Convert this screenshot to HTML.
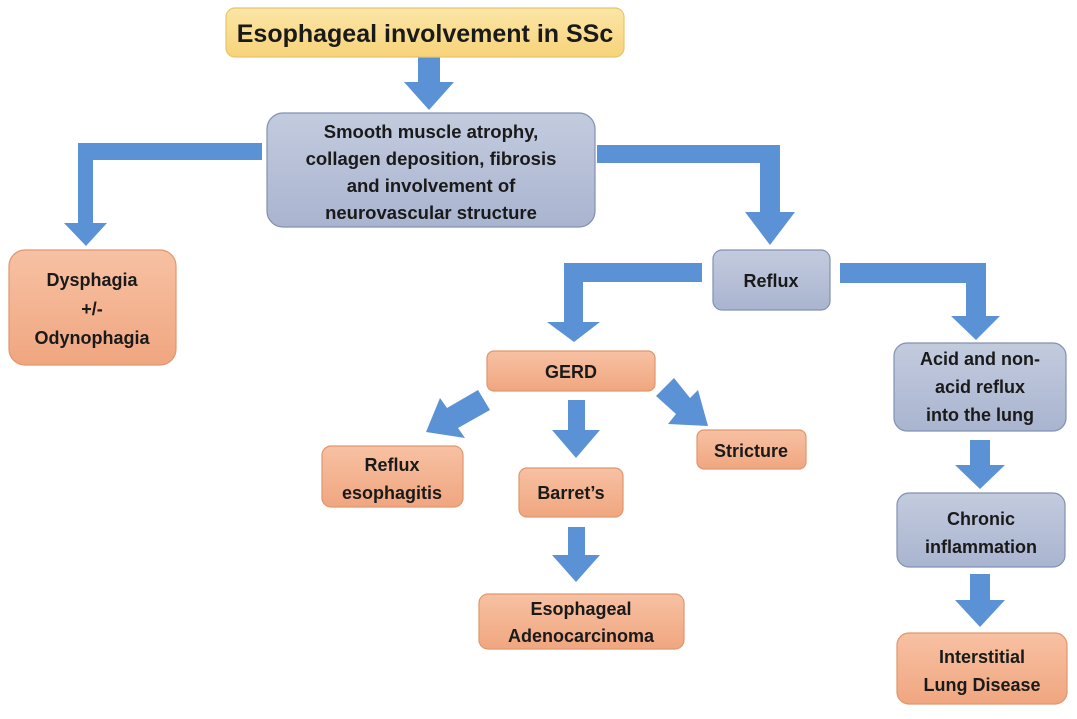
<!DOCTYPE html>
<html><head><style>
body{margin:0;background:#fff;}
text{font-family:"Liberation Sans",sans-serif;font-weight:bold;fill:#1a1a1a;text-anchor:middle;}
</style></head><body>
<svg width="1077" height="714" viewBox="0 0 1077 714" xmlns="http://www.w3.org/2000/svg">
<defs>
<linearGradient id="y" x1="0" y1="0" x2="0" y2="1"><stop offset="0" stop-color="#fbe6a6"/><stop offset="1" stop-color="#f7d37a"/></linearGradient>
<linearGradient id="b" x1="0" y1="0" x2="0" y2="1"><stop offset="0" stop-color="#c3cbde"/><stop offset="1" stop-color="#a9b4cf"/></linearGradient>
<linearGradient id="s" x1="0" y1="0" x2="0" y2="1"><stop offset="0" stop-color="#f7c1a3"/><stop offset="1" stop-color="#f0a680"/></linearGradient>
</defs>
<g fill="#5b92d6">
<polygon points="418,57 440,57 440,82 454,82 429,110 404,82 418,82"/>
<polygon points="262,143 262,160 93,160 93,223 107,223 86,246 64,223 78,223 78,143"/>
<polygon points="597,145 780,145 780,212 795,212 770,245 745,212 760,212 760,163 597,163"/>
<polygon points="702,263 702,282 583,282 583,322 600,322 574,342 547,322 564,322 564,263"/>
<polygon points="840,263 986,263 986,316 1000,316 976,340 951,316 966,316 966,283 840,283"/>
<polygon points="568,400 585,400 585,430 600,430 576,458 552,430 568,430"/>
<polygon points="568,527 585,527 585,555 600,555 576,582 552,555 568,555"/>
<polygon points="970,440 990,440 990,465 1005,465 980,489 955,465 970,465"/>
<polygon points="970,574 990,574 990,600 1005,600 980,627 955,600 970,600"/>
<polygon points="478,390 490,410 458,428 465,438 426,432 440,398 447,408"/>
<polygon points="674,378 690,398 698,390 708,426 668,424 676,414 656,396"/>
</g>
<g stroke-width="1.2">
<rect x="226" y="8" width="398" height="49" rx="9" fill="url(#y)" stroke="#e6c46a"/>
<rect x="267" y="113" width="328" height="114" rx="16" fill="url(#b)" stroke="#8290b2"/>
<rect x="9" y="250" width="167" height="115" rx="16" fill="url(#s)" stroke="#e0966d"/>
<rect x="713" y="250" width="117" height="60" rx="9" fill="url(#b)" stroke="#8290b2"/>
<rect x="487" y="351" width="168" height="40" rx="7" fill="url(#s)" stroke="#e0966d"/>
<rect x="322" y="446" width="141" height="61" rx="9" fill="url(#s)" stroke="#e0966d"/>
<rect x="519" y="468" width="104" height="49" rx="8" fill="url(#s)" stroke="#e0966d"/>
<rect x="697" y="430" width="109" height="39" rx="7" fill="url(#s)" stroke="#e0966d"/>
<rect x="479" y="594" width="205" height="55" rx="9" fill="url(#s)" stroke="#e0966d"/>
<rect x="894" y="343" width="172" height="88" rx="13" fill="url(#b)" stroke="#8290b2"/>
<rect x="897" y="493" width="168" height="74" rx="12" fill="url(#b)" stroke="#8290b2"/>
<rect x="897" y="633" width="170" height="71" rx="12" fill="url(#s)" stroke="#e0966d"/>
</g>
<text x="425" y="42" font-size="25">Esophageal involvement in SSc</text>
<g font-size="18.5">
<text x="431" y="138">Smooth muscle atrophy,</text>
<text x="431" y="165">collagen deposition, fibrosis</text>
<text x="431" y="192">and involvement of</text>
<text x="431" y="219">neurovascular structure</text>
</g>
<g font-size="18">
<text x="92" y="286">Dysphagia</text>
<text x="92" y="315">+/-</text>
<text x="92" y="344">Odynophagia</text>
<text x="771" y="287">Reflux</text>
<text x="571" y="378">GERD</text>
<text x="392" y="471">Reflux</text>
<text x="392" y="499">esophagitis</text>
<text x="571" y="499">Barret’s</text>
<text x="751" y="457">Stricture</text>
<text x="581" y="615">Esophageal</text>
<text x="581" y="642">Adenocarcinoma</text>
<text x="980" y="365">Acid and non-</text>
<text x="980" y="393">acid reflux</text>
<text x="980" y="421">into the lung</text>
<text x="981" y="525">Chronic</text>
<text x="981" y="553">inflammation</text>
<text x="982" y="663">Interstitial</text>
<text x="982" y="691">Lung Disease</text>
</g>
</svg>
</body></html>
